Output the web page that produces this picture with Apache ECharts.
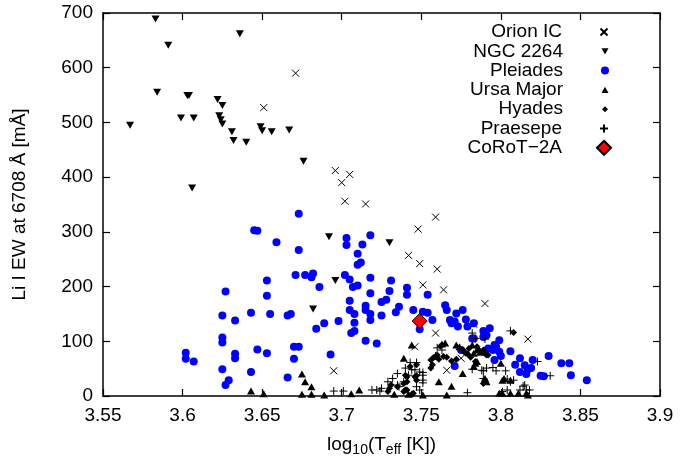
<!DOCTYPE html>
<html>
<head>
<meta charset="utf-8">
<script src="https://cdn.jsdelivr.net/npm/echarts@6/dist/echarts.min.js"></script>
<style>
html,body{margin:0;padding:0;background:#fff;}
#main{width:686px;height:457px;}
</style>
</head>
<body>
<div id="main"></div>
<script>
// values: [log10 Teff, Li EW mÅ]
var orionIC=[[3.671,590],[3.651,527],[3.696,412],[3.705,405],[3.700,390],[3.702,356],[3.715,351],[3.759,327],[3.748,305],[3.742,257],[3.749,242],[3.760,232],[3.751,203],[3.764,194],[3.790,169],[3.783,131],[3.759,115],[3.746,90],[3.695,46],[3.766,47],[3.775,69],[3.817,104]];
var ngc2264=[[3.583,689],[3.591,641],[3.636,662],[3.584,555],[3.603,549],[3.604,549],[3.622,542],[3.625,531],[3.599,508],[3.607,508],[3.567,495],[3.623,512],[3.624,505],[3.625,497],[3.631,483],[3.632,467],[3.640,464],[3.649,492],[3.650,485],[3.656,483],[3.667,486],[3.606,380],[3.676,429],[3.692,291],[3.730,280],[3.696,211],[3.682,159]];
var pleiades=[[3.673,333],[3.645,303],[3.647,302],[3.659,281],[3.673,267],[3.671,221],[3.653,211],[3.627,191],[3.653,183],[3.625,147],[3.633,138],[3.643,152],[3.655,150],[3.666,147],[3.668,150],[3.625,107],[3.625,98],[3.633,77],[3.633,69],[3.602,79],[3.602,68],[3.607,63],[3.647,85],[3.653,78],[3.670,90],[3.673,90],[3.670,68],[3.625,49],[3.643,44],[3.666,34],[3.629,29],[3.627,20],
[3.718,294],[3.703,289],[3.703,276],[3.713,277],[3.710,260],[3.712,244],[3.710,240],[3.677,221],[3.681,217],[3.682,224],[3.686,199],[3.702,221],[3.705,213],[3.718,216],[3.731,211],[3.741,198],[3.707,199],[3.710,202],
[3.718,188],[3.730,192],[3.728,176],[3.725,172],[3.741,185],[3.754,185],[3.705,174],[3.705,157],[3.708,150],[3.715,165],[3.715,157],[3.718,150],[3.718,139],[3.725,147],[3.736,163],[3.734,153],[3.745,157],[3.689,133],[3.698,137],[3.684,123],[3.708,134],[3.708,119],[3.706,115],[3.715,101],[3.722,96],[3.693,76],[3.754,152],[3.757,139],[3.749,122],[3.765,166],[3.766,157],[3.772,151],[3.776,157],[3.769,133],[3.771,136],[3.768,139],[3.773,127],[3.778,140],[3.789,119],[3.789,108],[3.793,124],[3.771,55],[3.782,105],[3.775,84],[3.751,154],
[3.799,102],[3.796,93],[3.792,87],[3.799,81],[3.800,73],[3.796,66],[3.806,82],[3.812,69],[3.809,57],[3.815,56],[3.817,49],[3.819,51],[3.812,44],[3.816,40],[3.820,66],[3.830,73],[3.825,37],[3.827,36],[3.838,60],[3.843,60],[3.844,38],[3.854,29],[3.779,127],[3.783,133],[3.783,105],[3.791,111],[3.797,90],[3.795,84]];
var ursaMajor=[[3.643,9],[3.651,4],[3.675,40],[3.677,26],[3.681,17],[3.675,3],[3.681,3],[3.689,2],[3.706,4],[3.711,11],[3.733,3],[3.742,3],[3.739,69],[3.744,93],[3.763,95],[3.765,97],[3.772,93],[3.774,90],[3.782,93],[3.785,84],[3.787,80],[3.761,26],[3.769,18],[3.766,2],[3.751,2],[3.776,41],[3.783,78],[3.784,60],[3.783,54],[3.785,63],[3.790,32],[3.791,26],[3.800,60],[3.801,29],[3.802,32],[3.806,29],[3.799,5],[3.801,5],[3.806,5],[3.811,5],[3.816,5],[3.817,2]];
var hyades=[[3.808,116],[3.730,14],[3.731,20],[3.735,17],[3.740,11],[3.739,23],[3.741,35],[3.741,26],[3.743,54],[3.747,57],[3.747,37],[3.756,66],[3.757,57],[3.756,51],[3.758,71],[3.761,67],[3.764,72],[3.766,71],[3.769,64],[3.772,67],[3.777,81],[3.779,77],[3.781,71],[3.784,63],[3.787,81],[3.789,84],[3.791,75],[3.776,84],[3.778,78],[3.780,87],[3.785,90],[3.786,84],[3.790,78],[3.792,75],[3.789,23],[3.790,29],[3.746,35],[3.747,29],[3.740,38],[3.739,8],[3.741,11],[3.729,8],[3.760,75],[3.762,91],[3.745,5],[3.744,3]];
var praesepe=[[3.719,11],[3.722,11],[3.725,14],[3.729,26],[3.732,32],[3.735,41],[3.735,20],[3.739,26],[3.742,38],[3.744,48],[3.746,48],[3.749,44],[3.751,38],[3.751,29],[3.747,17],[3.749,11],[3.695,9],[3.701,9],[3.724,9],[3.736,17],[3.751,43],[3.751,24],[3.743,61],[3.747,61],[3.740,51],[3.759,73],[3.763,84],[3.760,88],[3.782,115],[3.784,105],[3.782,49],[3.789,46],[3.789,32],[3.779,6],[3.806,119],[3.790,104],[3.788,47],[3.791,51],[3.795,52],[3.797,46],[3.803,46],[3.808,29],[3.806,26],[3.804,31],[3.814,18],[3.816,11],[3.812,11],[3.823,63],[3.831,37],[3.804,11],[3.801,8],[3.815,20],[3.818,11]];
var corot2A=[[3.749,137]];

var names=['Orion IC','NGC 2264','Pleiades','Ursa Major','Hyades','Praesepe','CoRoT\u22122A'];
var xTicks={min:3.55,max:3.9,interval:0.05};
var yTicks={min:0,max:700,interval:100};

var crossPath='path://M0,0L10,10M10,0L0,10';
var plusPath='path://M5,0L5,10M0,5L10,5';
var downTri='path://M0,0L10,0L5,9Z';
var upTri='path://M5,0L10,9L0,9Z';
var font='Liberation Sans';
var fs=19;

var chart=echarts.init(document.getElementById('main'));

// one legend per entry so the icons line up in one column and text is right aligned
function legendAt(i,size){
	return {
		data:[names[i]],
		orient:'vertical',
		align:'right',
		right:76-(size/2),
		top:32+i*19.3-15,
		itemWidth:size,
		itemHeight:size,
		selectedMode:false,
		textStyle:{fontFamily:font,fontSize:fs,lineHeight:20,color:'#000',padding:[0,37-size/2,0,0]}
	};
}

var axisLine={onZero:false,lineStyle:{color:'#000',width:1.5}};
var axisTick={inside:true,length:7,lineStyle:{color:'#000',width:1.2}};

var option={
	animation:false,
	backgroundColor:'#fff',
	grid:{left:103,right:26,top:13,bottom:61,containLabel:false,outerBoundsMode:'none'},
	legend:[legendAt(0,7),legendAt(1,7),legendAt(2,8),legendAt(3,7),legendAt(4,6),legendAt(5,8),legendAt(6,14)],
	xAxis:[{
		type:'value',min:xTicks.min,max:xTicks.max,interval:xTicks.interval,
		name:'{a|log}{s|10}{a|(T}{s|eff}{a| [K])}',nameLocation:'middle',nameGap:38,
		nameTextStyle:{rich:{
			a:{fontFamily:font,fontSize:fs,color:'#000',lineHeight:22},
			s:{fontFamily:font,fontSize:14,color:'#000',lineHeight:22,padding:[11,0,0,0]}
		}},
		axisLine:axisLine,axisTick:axisTick,
		axisLabel:{margin:10,fontFamily:font,fontSize:fs,color:'#000',formatter:function(v){return String(+v.toFixed(2));}},
		splitLine:{show:false}
	},{
		type:'value',position:'top',min:xTicks.min,max:xTicks.max,interval:xTicks.interval,
		axisLine:axisLine,axisTick:axisTick,
		axisLabel:{show:false},splitLine:{show:false}
	}],
	yAxis:[{
		type:'value',min:yTicks.min,max:yTicks.max,interval:yTicks.interval,
		name:'Li I EW at 6708 \u00c5 [m\u00c5]',nameLocation:'middle',nameGap:74,
		nameTextStyle:{fontFamily:font,fontSize:fs,color:'#000'},
		axisLine:axisLine,axisTick:axisTick,
		axisLabel:{margin:10,fontFamily:font,fontSize:fs,color:'#000'},
		splitLine:{show:false}
	},{
		type:'value',position:'right',min:yTicks.min,max:yTicks.max,interval:yTicks.interval,
		axisLine:axisLine,axisTick:axisTick,
		axisLabel:{show:false},splitLine:{show:false}
	}],
	series:[
		{name:names[0],type:'scatter',data:orionIC,symbol:crossPath,symbolSize:7,
			itemStyle:{color:'rgba(0,0,0,0)',borderColor:'#000',borderWidth:1,opacity:1}},
		{name:names[1],type:'scatter',data:ngc2264,symbol:downTri,symbolSize:[8,7],
			itemStyle:{color:'#000',opacity:1}},
		{name:names[2],type:'scatter',data:pleiades,symbol:'circle',symbolSize:8,
			itemStyle:{color:'#0000ff',opacity:1}},
		{name:names[3],type:'scatter',data:ursaMajor,symbol:upTri,symbolSize:[8,7],
			itemStyle:{color:'#000',opacity:1}},
		{name:names[4],type:'scatter',data:hyades,symbol:'diamond',symbolSize:7,
			itemStyle:{color:'#000',opacity:1}},
		{name:names[5],type:'scatter',data:praesepe,symbol:plusPath,symbolSize:8,
			itemStyle:{color:'rgba(0,0,0,0)',borderColor:'#000',borderWidth:1,opacity:1}},
		{name:names[6],type:'scatter',data:corot2A,symbol:'diamond',symbolSize:15,
			itemStyle:{color:'#ff0000',borderColor:'#000',borderWidth:1,opacity:1}}
	]
};
chart.setOption(option);
</script>
</body>
</html>
